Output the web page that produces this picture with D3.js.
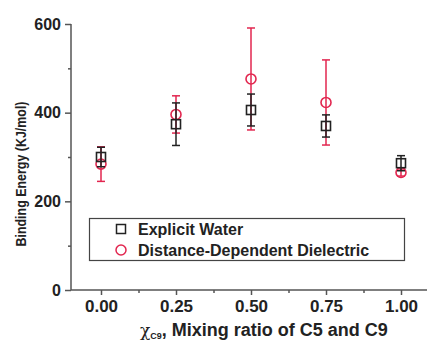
<!DOCTYPE html>
<html>
<head>
<meta charset="utf-8">
<script src="https://cdn.jsdelivr.net/npm/d3@7"></script>
<style>
  body { margin: 0; background: #fff; }
  svg { font-family: "Liberation Sans", Arial, sans-serif; }
</style>
</head>
<body>
<div id="chart"></div>
<script>
// mixing ratio (x) for each point
const mixRatio = [0, 0.25, 0.5, 0.75, 1.0];

// Explicit Water: mean and error
const waterValues = [300, 374, 406, 370, 286];
const waterErrors = [22, 48, 36, 25, 17];

// Distance-Dependent Dielectric: mean and error
const dielValues = [284, 396, 476, 423, 265];
const dielErrors = [39, 42, 115, 96, 8];

const xTickLabels = ["0.00", "0.25", "0.50", "0.75", "1.00"];
const yTickLabels = ["0", "200", "400", "600"];
const yTicks = [0, 200, 400, 600];
const yMinor = [100, 300, 500];
const xMinor = [0.125, 0.375, 0.625, 0.875];

const width = 427, height = 346;
const red = "#e2264f";
const black = "#222";
const axisCol = "#555";

const svg = d3.select("#chart").append("svg")
  .attr("width", width)
  .attr("height", height);

const x = d3.scaleLinear().domain([-0.1, 1.1]).range([71, 431]);
const y = d3.scaleLinear().domain([0, 600]).range([290, 24]);

// y axis
const yAxis = svg.append("g")
  .attr("class", "yaxis")
  .attr("transform", "translate(71,0)")
  .call(d3.axisLeft(y).tickValues(yTicks).tickSize(6).tickPadding(4)
    .tickFormat((d, i) => yTickLabels[i]));
yAxis.select(".domain").attr("d", `M0,${y(600)}V${y(0)}`);
svg.append("g")
  .attr("transform", "translate(71,0)")
  .call(d3.axisLeft(y).tickValues(yMinor).tickSize(3).tickFormat(""))
  .select(".domain").remove();

// x axis
const xAxis = svg.append("g")
  .attr("class", "xaxis")
  .attr("transform", "translate(0,290)")
  .call(d3.axisBottom(x).tickValues(mixRatio).tickSize(5).tickPadding(5)
    .tickFormat((d, i) => xTickLabels[i]));
xAxis.select(".domain").attr("d", `M${x(-0.1)},0H${x(1.1)}`);
svg.append("g")
  .attr("transform", "translate(0,290)")
  .call(d3.axisBottom(x).tickValues(xMinor).tickSize(3).tickFormat(""))
  .select(".domain").remove();

svg.selectAll(".domain, .tick line")
  .attr("stroke", axisCol)
  .attr("stroke-width", 1.5);
svg.selectAll(".tick text")
  .attr("fill", "#222")
  .style("font-weight", "bold");
yAxis.selectAll(".tick text").style("font-size", "16px");
xAxis.selectAll(".tick text").style("font-size", "17px");

// error bars + markers
function drawSeries(vals, errs, color, shape) {
  const g = svg.append("g");
  const capW = 4;
  mixRatio.forEach(function(m, i) {
    const cx = x(m);
    const lo = y(vals[i] - errs[i]);
    const hi = y(vals[i] + errs[i]);
    g.append("line")
      .attr("x1", cx).attr("x2", cx)
      .attr("y1", lo).attr("y2", hi)
      .attr("stroke", color).attr("stroke-width", 1.5);
    [lo, hi].forEach(function(yy) {
      g.append("line")
        .attr("x1", cx - capW).attr("x2", cx + capW)
        .attr("y1", yy).attr("y2", yy)
        .attr("stroke", color).attr("stroke-width", 1.5);
    });
  });
  mixRatio.forEach(function(m, i) {
    const cx = x(m), cy = y(vals[i]);
    if (shape === "square") {
      g.append("rect")
        .attr("x", cx - 4.5).attr("y", cy - 4.5)
        .attr("width", 9).attr("height", 9)
        .attr("fill", "none")
        .attr("stroke", color).attr("stroke-width", 1.6);
    } else {
      g.append("circle")
        .attr("cx", cx).attr("cy", cy).attr("r", 5)
        .attr("fill", "none")
        .attr("stroke", color).attr("stroke-width", 1.6);
    }
  });
}

drawSeries(dielValues, dielErrors, red, "circle");
drawSeries(waterValues, waterErrors, black, "square");

// legend
const legend = svg.append("g");
legend.append("rect")
  .attr("x", 89.5).attr("y", 218.5)
  .attr("width", 315).attr("height", 42)
  .attr("fill", "none")
  .attr("stroke", "#444").attr("stroke-width", 1.2);
legend.append("rect")
  .attr("x", 116.5).attr("y", 224.5)
  .attr("width", 9).attr("height", 9)
  .attr("fill", "none").attr("stroke", black).attr("stroke-width", 1.5);
legend.append("circle")
  .attr("cx", 121).attr("cy", 250).attr("r", 5)
  .attr("fill", "none").attr("stroke", red).attr("stroke-width", 1.5);
legend.append("text")
  .attr("x", 138).attr("y", 235)
  .style("font-size", "16px").style("font-weight", "bold")
  .attr("fill", "#222")
  .text("Explicit Water");
legend.append("text")
  .attr("x", 138).attr("y", 256)
  .style("font-size", "16px").style("font-weight", "bold")
  .attr("fill", "#222")
  .text("Distance-Dependent Dielectric");

// axis titles
svg.append("text")
  .attr("transform", "translate(26,174) rotate(-90)")
  .attr("text-anchor", "middle")
  .attr("textLength", 145)
  .attr("lengthAdjust", "spacingAndGlyphs")
  .style("font-size", "15px").style("font-weight", "bold")
  .attr("fill", "#222")
  .text("Binding Energy (KJ/mol)");

const xt = svg.append("text")
  .attr("x", 140).attr("y", 336)
  .attr("fill", "#222");
xt.append("tspan")
  .style("font-size", "17px")
  .style("font-family", "'DejaVu Serif', serif")
  .text("\u03c7");
xt.append("tspan")
  .attr("dy", 3)
  .style("font-size", "9px").style("font-weight", "bold")
  .text("C9");
xt.append("tspan")
  .attr("dy", -3)
  .style("font-size", "18px").style("font-weight", "bold")
  .text(", Mixing ratio of C5 and C9");
</script>
</body>
</html>
